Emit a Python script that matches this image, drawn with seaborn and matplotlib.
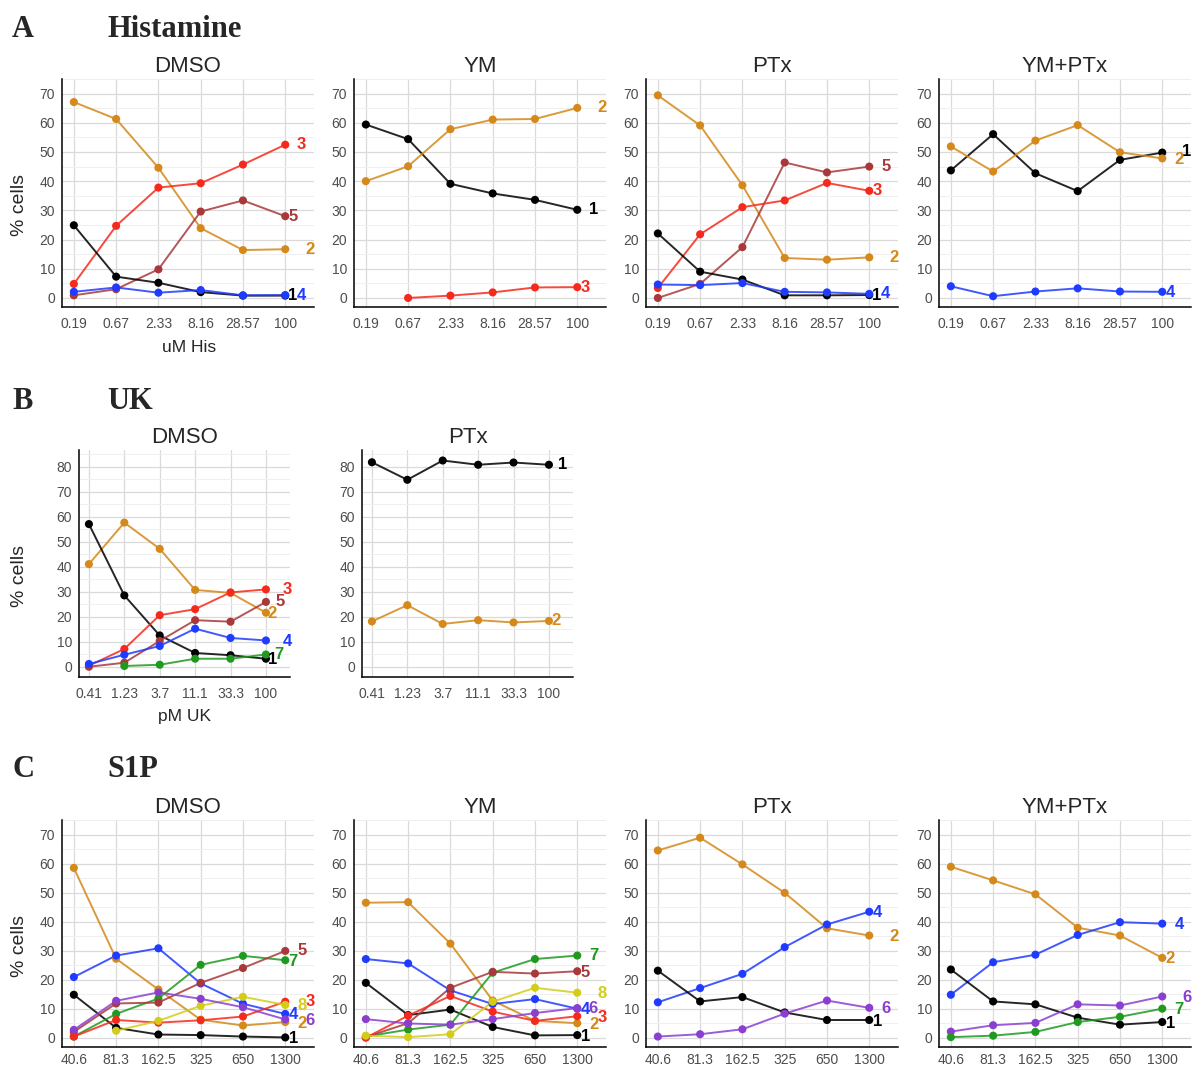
import numpy as np
import pandas as pd
import matplotlib
matplotlib.use("Agg")
import matplotlib.pyplot as plt
import seaborn as sns

nan = np.nan

# ---------------- doses (x categories) ----------------
his_doses = ["0.19", "0.67", "2.33", "8.16", "28.57", "100"]
uk_doses = ["0.41", "1.23", "3.7", "11.1", "33.3", "100"]
s1p_doses = ["40.6", "81.3", "162.5", "325", "650", "1300"]

# ---------------- % cells per cluster ----------------
# Histamine
his_dmso = {
    "2": [67.1, 61.3, 44.6, 23.9, 16.4, 16.7],
    "3": [4.8, 24.7, 37.8, 39.3, 45.7, 52.5],
    "5": [0.9, 3.0, 9.8, 29.6, 33.4, 28.0],
    "1": [24.9, 7.3, 5.2, 2.0, 0.8, 0.8],
    "4": [2.1, 3.6, 1.8, 2.7, 0.9, 1.0],
}
his_ym = {
    "1": [59.4, 54.4, 39.1, 35.8, 33.6, 30.2],
    "2": [40.0, 45.1, 57.8, 61.1, 61.3, 65.1],
    "3": [nan, 0.0, 0.8, 1.9, 3.6, 3.7],
}
his_ptx = {
    "2": [69.4, 59.1, 38.6, 13.7, 13.1, 13.9],
    "5": [0.0, 4.8, 17.4, 46.4, 43.0, 45.0],
    "3": [3.4, 21.8, 31.1, 33.4, 39.4, 36.7],
    "1": [22.1, 9.0, 6.3, 0.9, 0.9, 1.0],
    "4": [4.6, 4.4, 5.1, 2.1, 1.9, 1.4],
}
his_ymptx = {
    "1": [43.7, 56.1, 42.7, 36.6, 47.3, 49.8],
    "2": [51.9, 43.3, 53.9, 59.2, 49.9, 47.8],
    "4": [4.0, 0.6, 2.2, 3.3, 2.2, 2.1],
}

# UK
uk_dmso = {
    "2": [41.1, 57.7, 47.2, 30.8, 29.6, 21.7],
    "1": [57.1, 28.6, 12.6, 5.6, 4.7, 3.3],
    "3": [0.5, 7.2, 20.7, 23.1, 29.8, 31.0],
    "5": [0.1, 1.7, 10.4, 18.7, 18.1, 26.0],
    "4": [1.2, 4.9, 8.4, 15.3, 11.6, 10.6],
    "7": [nan, 0.4, 0.9, 3.3, 3.3, 5.0],
}
uk_ptx = {
    "1": [81.8, 74.8, 82.5, 80.8, 81.7, 80.8],
    "2": [18.2, 24.7, 17.2, 18.7, 17.8, 18.4],
}

# S1P
s1p_dmso = {
    "2": [58.5, 27.2, 16.6, 6.2, 4.2, 5.4],
    "4": [20.9, 28.3, 30.8, 18.7, 11.7, 8.2],
    "1": [14.8, 3.4, 1.1, 0.9, 0.4, 0.1],
    "7": [0.4, 8.2, 13.5, 25.1, 28.2, 26.7],
    "5": [2.0, 11.8, 12.1, 18.9, 24.0, 29.9],
    "3": [0.4, 6.1, 5.2, 6.0, 7.3, 12.4],
    "8": [nan, 2.4, 5.8, 11.0, 14.1, 11.3],
    "6": [2.7, 12.7, 15.6, 13.4, 10.5, 6.3],
}
s1p_ym = {
    "2": [46.5, 46.7, 32.4, 12.8, 5.8, 5.0],
    "4": [27.1, 25.6, 16.3, 11.6, 13.3, 10.0],
    "1": [18.9, 7.8, 9.7, 3.7, 0.8, 0.9],
    "7": [0.4, 2.8, 4.5, 22.4, 27.1, 28.3],
    "5": [0.2, 5.0, 17.2, 22.7, 22.1, 22.9],
    "3": [0.0, 7.6, 14.4, 9.0, 5.8, 7.4],
    "6": [6.4, 4.9, 4.5, 6.4, 8.5, 10.2],
    "8": [0.7, 0.2, 1.2, 12.4, 17.2, 15.5],
}
s1p_ptx = {
    "2": [64.5, 68.9, 59.7, 49.9, 37.7, 35.2],
    "4": [12.2, 17.1, 22.0, 31.2, 39.0, 43.4],
    "1": [23.1, 12.5, 14.0, 8.7, 6.1, 6.1],
    "6": [0.4, 1.2, 2.9, 8.3, 12.8, 10.3],
}
s1p_ymptx = {
    "2": [58.9, 54.2, 49.4, 37.9, 35.2, 27.5],
    "4": [14.8, 26.0, 28.6, 35.4, 39.8, 39.3],
    "1": [23.5, 12.5, 11.5, 6.9, 4.5, 5.4],
    "6": [2.1, 4.3, 5.1, 11.5, 11.1, 14.2],
    "7": [0.2, 0.7, 2.0, 5.4, 7.2, 10.0],
}

# ---------------- styling ----------------
cluster_colors = {
    "1": "#000000", "2": "#D4891A", "3": "#F62A1C", "4": "#1F3BFF",
    "5": "#A8383A", "6": "#8B3FD0", "7": "#1F9A1F", "8": "#D3CD19",
}

# end-label placement (pixel offset from the last point, dx right / dy up)
his_dmso_lab = {"3": (16, 0), "5": (8, 0), "2": (25, 0), "1": (7, 0), "4": (16, 0)}
his_ym_lab = {"2": (25, 0), "1": (16, 0), "3": (8, 0)}
his_ptx_lab = {"5": (17, 0), "3": (8, 0), "2": (25, 0), "1": (7, 0), "4": (16, 0)}
his_ymptx_lab = {"1": (24, 1), "2": (17, -1), "4": (8, -1)}
uk_dmso_lab = {"3": (21, 0), "5": (14, 0), "2": (6, -1), "4": (21, -1), "7": (13, 0), "1": (7, -1)}
uk_ptx_lab = {"1": (14, 0), "2": (7, 0)}
s1p_dmso_lab = {"5": (17, 0), "7": (8, -1), "8": (17, -1), "3": (25, 0), "4": (8, -1),
                "2": (17, -1), "6": (25, -1), "1": (8, -1)}
s1p_ym_lab = {"7": (17, 0), "5": (8, -1), "8": (25, -1), "4": (8, -1), "6": (16, 0),
              "3": (25, -1), "2": (17, -1), "1": (8, -1)}
s1p_ptx_lab = {"4": (8, -1), "2": (25, -1), "6": (17, -1), "1": (8, -1)}
s1p_ymptx_lab = {"4": (17, -1), "2": (8, -1), "6": (25, -1), "7": (17, -1), "1": (8, -1)}

sns.set_style("white")
plt.rcParams["font.family"] = ["Liberation Sans", "DejaVu Sans"]

W, H = 1192, 1066
fig = plt.figure(figsize=(W / 100, H / 100), dpi=100)


def add_axes_px(left, top, right, bottom):
    return fig.add_axes([left / W, 1 - bottom / H, (right - left) / W, (bottom - top) / H])


def draw_panel(ax, doses, series, labels, title, ylim, ymax_tick, xpad):
    rows = []
    for cl, vals in series.items():
        for i, v in enumerate(vals):
            rows.append((i, v, cl))
    df = pd.DataFrame(rows, columns=["pos", "pct", "cluster"]).dropna()
    order = list(series.keys())

    sns.lineplot(data=df, x="pos", y="pct", hue="cluster", hue_order=order,
                 palette=cluster_colors, linewidth=1.4, alpha=0.85,
                 estimator=None, legend=False, ax=ax, zorder=2)
    sns.scatterplot(data=df, x="pos", y="pct", hue="cluster", hue_order=order,
                    palette=cluster_colors, s=34, linewidth=0, legend=False,
                    ax=ax, zorder=3)

    for cl, (dx, dy) in labels.items():
        last = series[cl][-1]
        ax.annotate(cl, xy=(len(doses) - 1, last), xytext=(dx, dy),
                    textcoords="offset pixels", color=cluster_colors[cl],
                    fontsize=12, fontweight="bold", ha="center", va="center",
                    annotation_clip=False, zorder=4)

    ax.set_xlim(-0.28, len(doses) - 1 + 0.68)
    ax.set_ylim(*ylim)
    ax.set_xticks(range(len(doses)))
    ax.set_xticklabels(doses)
    ax.set_yticks(np.arange(0, ymax_tick + 1, 10))
    ax.set_yticks(np.arange(5, ymax_tick + 6, 10), minor=True)
    ax.set_axisbelow(True)
    ax.grid(which="major", color="#DADADA", linewidth=0.9)
    ax.grid(which="minor", axis="y", color="#EFEFEF", linewidth=0.7)
    ax.grid(which="minor", axis="x", visible=False)
    for side in ("top", "right"):
        ax.spines[side].set_visible(False)
    for side in ("left", "bottom"):
        ax.spines[side].set_color("black")
        ax.spines[side].set_linewidth(1.1)
    ax.tick_params(which="both", length=0, labelsize=10, labelcolor="#4D4D4D")
    ax.tick_params(axis="x", pad=xpad)
    ax.tick_params(axis="y", pad=5)
    ax.set_xlabel("")
    ax.set_ylabel("")
    ax.set_title(title, fontsize=16, pad=5)


lefts = [62, 354, 646, 939]
width = 252

# ---------------- A: Histamine ----------------
rowA = [(his_dmso, his_dmso_lab, "DMSO"), (his_ym, his_ym_lab, "YM"),
        (his_ptx, his_ptx_lab, "PTx"), (his_ymptx, his_ymptx_lab, "YM+PTx")]
for left, (ser, lab, ttl) in zip(lefts, rowA):
    ax = add_axes_px(left, 79, left + width, 307)
    draw_panel(ax, his_doses, ser, lab, ttl, (-3.1, 72.9), 70, 7.5)

# ---------------- B: UK ----------------
rowB = [(79, uk_dmso, uk_dmso_lab, "DMSO"), (362, uk_ptx, uk_ptx_lab, "PTx")]
for left, ser, lab, ttl in rowB:
    ax = add_axes_px(left, 450, left + 211, 677)
    draw_panel(ax, uk_doses, ser, lab, ttl, (-4.0, 86.7), 80, 7.5)

# ---------------- C: S1P ----------------
rowC = [(s1p_dmso, s1p_dmso_lab, "DMSO"), (s1p_ym, s1p_ym_lab, "YM"),
        (s1p_ptx, s1p_ptx_lab, "PTx"), (s1p_ymptx, s1p_ymptx_lab, "YM+PTx")]
for left, (ser, lab, ttl) in zip(lefts, rowC):
    ax = add_axes_px(left, 820, left + width, 1047)
    draw_panel(ax, s1p_doses, ser, lab, ttl, (-3.2, 72.3), 70, 4.0)


def fig_text(x, y, s, **kw):
    fig.text(x / W, 1 - y / H, s, **kw)


# axis labels
for y in (205, 576, 946):
    fig_text(20, y, "% cells", rotation=90, fontsize=14, ha="center", va="center")
fig_text(189, 348, "uM His", fontsize=12.5, ha="center", va="center")
fig_text(184, 717, "pM UK", fontsize=12.5, ha="center", va="center")

# section headings
head = dict(family=["Liberation Serif", "DejaVu Serif"], fontweight="bold",
            fontsize=22, va="baseline")
for y, letter, name in ((37, "A", "Histamine"), (409, "B", "UK"), (777, "C", "S1P")):
    fig_text(12, y, letter, **head)
    fig_text(107, y, name, **head)

fig.savefig("out.png", dpi=100, facecolor="white")
